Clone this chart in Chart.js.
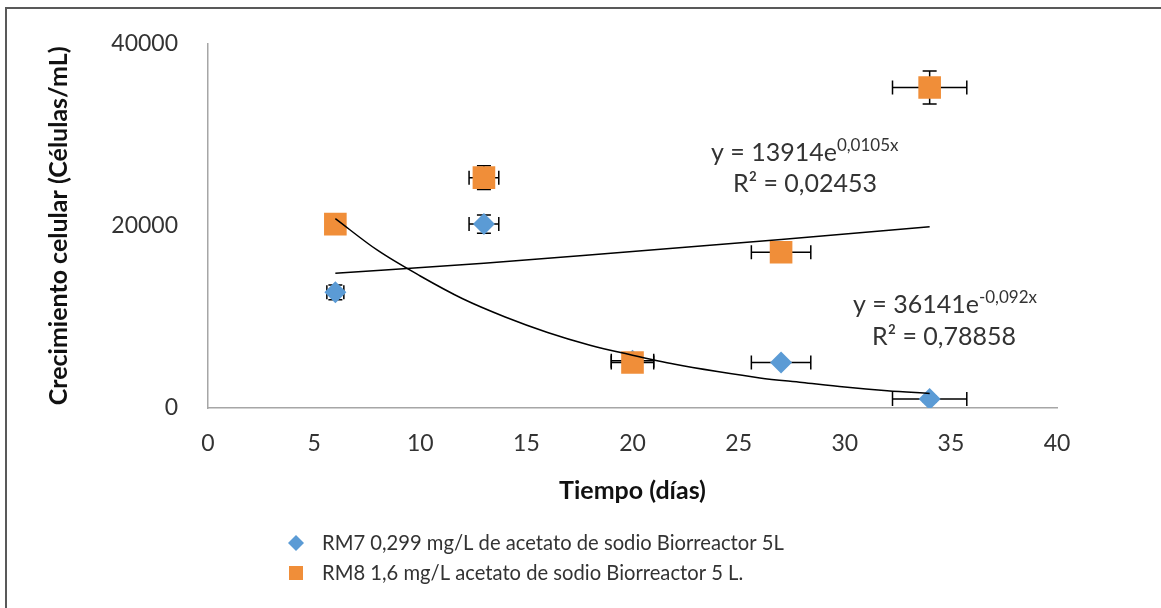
<html>
<head>
<script src="https://cdn.jsdelivr.net/npm/chart.js"></script>
<style>
  body { margin: 0; background: #fff; }
</style>
<script type="text/javascript">
    // days of sampling
    const days = [6, 13, 20, 27, 34];

    // RM7 (blue diamonds)
    const rm7 = [12700, 20200, 5200, 5000, 1000];
    const rm7ErrX = [0.4, 0.7, 1.0, 1.4, 1.75];
    const rm7ErrY = [800, 1000, 300, 300, 300];

    // RM8 (orange squares)
    const rm8 = [20200, 25300, 5000, 17100, 35200];
    const rm8ErrX = [0.3, 0.7, 1.0, 1.4, 1.75];
    const rm8ErrY = [300, 1300, 300, 300, 1800];

    // trend lines
    const trendDecX = [6, 8, 10, 12, 14, 16, 18, 20, 22, 24, 26, 28, 30, 32, 34];
    const trendDecY = [20800, 17300, 14500, 12000, 10000, 8300, 6900, 5800, 4800, 4000, 3300, 2800, 2300, 1900, 1600];
    const trendIncX = [6, 13, 20, 27, 34];
    const trendIncY = [14800, 15900, 17200, 18500, 19900];

    const xTicks = [0, 5, 10, 15, 20, 25, 30, 35, 40];
    const yTicks = [0, 20000, 40000];

    const legendLabels = ['RM7 0,299 mg/L de acetato de sodio Biorreactor 5L',
                          'RM8 1,6 mg/L acetato de sodio Biorreactor 5 L.'];

    const blue = '#5B9BD5';
    const orange = '#F08E39';
    const textColor = '#333333';
    const FONT = 'Lato';

    function pts(xs, ys) {
        var out = [];
        for (var i = 0; i < xs.length; ++i) out.push({x: xs[i], y: ys[i]});
        return out;
    }

    // frame + white background
    const framePlugin = {
        id: 'frame',
        beforeDraw(chart) {
            const ctx = chart.ctx;
            ctx.save();
            ctx.fillStyle = '#fff';
            ctx.fillRect(0, 0, chart.width, chart.height);
            ctx.strokeStyle = '#595959';
            ctx.lineWidth = 2;
            ctx.strokeRect(6, 8, chart.width + 20, chart.height + 20);
            ctx.restore();
        }
    };

    // error bars, drawn behind the markers from errX / errY of each dataset
    const errorBarPlugin = {
        id: 'errorBars',
        beforeDatasetsDraw(chart) {
            const ctx = chart.ctx;
            const xs = chart.scales.x, ys = chart.scales.y;
            const cap = 7;
            ctx.save();
            ctx.strokeStyle = '#000';
            ctx.lineWidth = 1.5;
            chart.data.datasets.forEach(function (ds) {
                if (!ds.errX) return;
                ds.data.forEach(function (p, i) {
                    const px = xs.getPixelForValue(p.x), py = ys.getPixelForValue(p.y);
                    const x1 = xs.getPixelForValue(p.x - ds.errX[i]), x2 = xs.getPixelForValue(p.x + ds.errX[i]);
                    const y1 = ys.getPixelForValue(p.y - ds.errY[i]), y2 = ys.getPixelForValue(p.y + ds.errY[i]);
                    ctx.beginPath();
                    ctx.moveTo(x1, py); ctx.lineTo(x2, py);
                    ctx.moveTo(x1, py - cap); ctx.lineTo(x1, py + cap);
                    ctx.moveTo(x2, py - cap); ctx.lineTo(x2, py + cap);
                    ctx.moveTo(px, y1); ctx.lineTo(px, y2);
                    ctx.moveTo(px - cap, y1); ctx.lineTo(px + cap, y1);
                    ctx.moveTo(px - cap, y2); ctx.lineTo(px + cap, y2);
                    ctx.stroke();
                });
            });
            ctx.restore();
        }
    };

    // equations and legend
    const annotPlugin = {
        id: 'annot',
        afterDraw(chart) {
            const ctx = chart.ctx;
            ctx.save();
            ctx.fillStyle = textColor;
            ctx.textBaseline = 'alphabetic';
            function eq(x, y, base, sup) {
                ctx.font = '25px ' + FONT;
                ctx.fillText(base, x, y);
                const w = ctx.measureText(base).width;
                ctx.font = '17px ' + FONT;
                ctx.fillText(sup, x + w, y - 10);
            }
            ctx.textAlign = 'left';
            eq(711, 161, 'y = 13914e', '0,0105x');
            ctx.font = '25px ' + FONT;
            ctx.fillText('R² = 0,02453', 733, 192);
            eq(853, 313, 'y = 36141e', '-0,092x');
            ctx.font = '25px ' + FONT;
            ctx.fillText('R² = 0,78858', 872, 345);

            // legend
            const lx = 296, ly = [543, 573];
            ctx.fillStyle = blue;
            ctx.beginPath();
            ctx.moveTo(lx, ly[0] - 8); ctx.lineTo(lx + 8, ly[0]); ctx.lineTo(lx, ly[0] + 8); ctx.lineTo(lx - 8, ly[0]);
            ctx.closePath(); ctx.fill();
            ctx.fillStyle = orange;
            ctx.fillRect(lx - 7, ly[1] - 7, 14, 14);
            ctx.fillStyle = textColor;
            ctx.font = '20.2px ' + FONT;
            ctx.textBaseline = 'middle';
            ctx.fillText(legendLabels[0], 322, ly[0]);
            ctx.fillText(legendLabels[1], 322, ly[1]);
            ctx.restore();
        }
    };

    function plain(v) { return String(v); }

    function loadChart() {
        new Chart(document.getElementById('myChart'), {
            type: 'scatter',
            data: {
                datasets: [
                    {
                        label: 'trend dec',
                        type: 'line',
                        data: pts(trendDecX, trendDecY),
                        borderColor: '#000',
                        borderWidth: 1.5,
                        pointRadius: 0,
                        cubicInterpolationMode: 'monotone',
                        order: 0
                    },
                    {
                        label: 'trend inc',
                        type: 'line',
                        data: pts(trendIncX, trendIncY),
                        borderColor: '#000',
                        borderWidth: 1.5,
                        pointRadius: 0,
                        cubicInterpolationMode: 'monotone',
                        order: 0
                    },
                    {
                        label: legendLabels[0],
                        data: pts(days, rm7),
                        errX: rm7ErrX, errY: rm7ErrY,
                        pointStyle: 'rectRot',
                        pointRadius: 11,
                        backgroundColor: blue,
                        borderWidth: 0,
                        order: 2
                    },
                    {
                        label: legendLabels[1],
                        data: pts(days, rm8),
                        errX: rm8ErrX, errY: rm8ErrY,
                        pointStyle: 'rect',
                        pointRadius: 16,
                        backgroundColor: orange,
                        borderWidth: 0,
                        order: 1
                    }
                ]
            },
            options: {
                responsive: false,
                animation: false,
                layout: { padding: { left: 40, top: 41, right: 104, bottom: 100 } },
                plugins: { legend: { display: false }, tooltip: { enabled: false } },
                scales: {
                    x: {
                        type: 'linear', min: 0, max: 40,
                        afterBuildTicks: function (s) { s.ticks = xTicks.map(v => ({value: v})); },
                        grid: { display: false, drawTicks: false },
                        border: { color: '#A6A6A6', width: 1.5 },
                        ticks: { padding: 22, color: textColor, font: { family: FONT, size: 23 }, callback: plain },
                        title: { display: true, text: 'Tiempo (días)', color: '#111', padding: { top: 4, bottom: 2 },
                                 font: { family: FONT, size: 25, weight: 'bold' } },
                        afterFit: function (s) { s.height = 100; }
                    },
                    y: {
                        type: 'linear', min: 0, max: 40000,
                        afterBuildTicks: function (s) { s.ticks = yTicks.map(v => ({value: v})); },
                        grid: { display: false, drawTicks: false },
                        border: { color: '#A6A6A6', width: 1.5 },
                        ticks: { padding: 30, color: textColor, font: { family: FONT, size: 23 }, callback: plain },
                        title: { display: true, text: 'Crecimiento celular (Células/mL)', color: '#111', padding: 4,
                                 font: { family: FONT, size: 25, weight: 'bold' } },
                        afterFit: function (s) { s.width = 168; }
                    }
                }
            },
            plugins: [framePlugin, errorBarPlugin, annotPlugin]
        });
    }
</script>
</head>
<body onLoad="loadChart()">
    <canvas id="myChart" width="1161" height="608"></canvas>
</body>
</html>
